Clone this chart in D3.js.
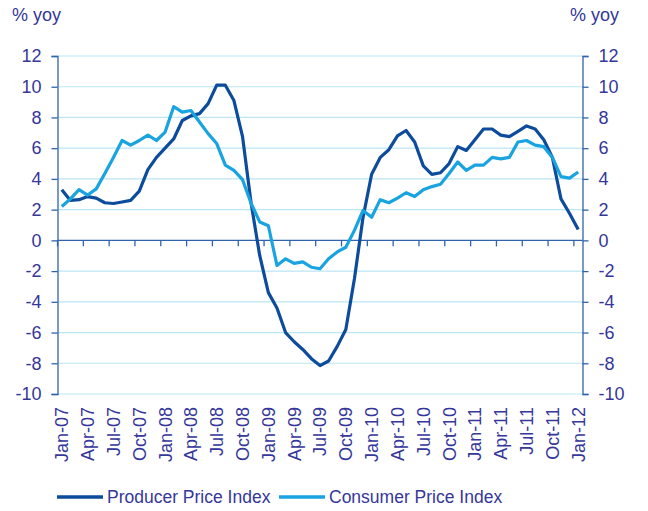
<!DOCTYPE html>
<html>
  <head>
    <script src="https://cdnjs.cloudflare.com/ajax/libs/d3/7.8.5/d3.min.js"></script>
    <style>
      body {
        margin: 0;
        background: #ffffff;
        font-family: "Liberation Sans", Arial, sans-serif;
      }
      text {
        fill: #35379a;
      }
    </style>
  </head>
  <body>
    <div id="chart"></div>
    <script>
      // 月次データ Jan-07 〜 Jan-12
      const months = ["Jan", "Feb", "Mar", "Apr", "May", "Jun", "Jul", "Aug", "Sep", "Oct", "Nov", "Dec"];
      const categories = [];
      for (let y = 7; y <= 12; y++) {
        months.forEach((m) => {
          if (y === 12 && m !== "Jan") return;
          categories.push(m + "-" + String(y).padStart(2, "0"));
        });
      }

      const ppi = [
        3.3, 2.6, 2.65, 2.85, 2.75, 2.45, 2.4, 2.5, 2.6, 3.2, 4.6, 5.4,
        6.0, 6.6, 7.8, 8.1, 8.25, 8.9, 10.1, 10.1, 9.1, 6.75, 2.4, -1.0,
        -3.4, -4.4, -6.0, -6.6, -7.1, -7.7, -8.15, -7.85, -6.9, -5.8, -2.5, 1.5,
        4.3, 5.4, 5.9, 6.8, 7.15, 6.4, 4.85, 4.3, 4.4, 5.0, 6.1, 5.85,
        6.55, 7.25, 7.25, 6.85, 6.75, 7.1, 7.45, 7.25, 6.55, 5.4, 2.7, 1.75,
        0.7,
      ];
      const cpi = [
        2.2, 2.7, 3.3, 2.95, 3.35, 4.35, 5.4, 6.5, 6.2, 6.5, 6.85, 6.5,
        7.05, 8.7, 8.35, 8.45, 7.7, 6.95, 6.3, 4.9, 4.55, 3.95, 2.4, 1.2,
        0.95, -1.63, -1.2, -1.5, -1.4, -1.75, -1.85, -1.2, -0.75, -0.45, 0.65, 1.95,
        1.5, 2.65, 2.45, 2.75, 3.1, 2.85, 3.3, 3.5, 3.65, 4.35, 5.1, 4.55,
        4.9, 4.9, 5.4, 5.3, 5.4, 6.4, 6.5, 6.2, 6.1, 5.4, 4.15, 4.05,
        4.45,
      ];
      const yTicks = [-10, -8, -6, -4, -2, 0, 2, 4, 6, 8, 10, 12];
      const seriesNames = ["Producer Price Index", "Consumer Price Index"];
      const seriesColors = ["#0d4c9c", "#19a3e0"];

      const width = 648;
      const height = 511;
      const left = 57.5;
      const right = 582.5;

      const svg = d3
        .select("#chart")
        .append("svg")
        .attr("width", width)
        .attr("height", height);

      const x = d3.scaleBand().domain(d3.range(categories.length)).range([left, right]);
      const y = d3.scaleLinear().domain([-10, 12]).range([394, 56]);

      // 横のグリッド線
      svg
        .append("g")
        .selectAll("line")
        .data(yTicks.filter((d) => d !== 0))
        .enter()
        .append("line")
        .attr("x1", left)
        .attr("x2", right)
        .attr("y1", (d) => y(d))
        .attr("y2", (d) => y(d))
        .attr("stroke", "#bde5f4")
        .attr("stroke-width", 1.2);

      // 左右の軸（マイナスはハイフンで表示）
      const axisColor = "#3063ad";
      const fmt = (d) => String(d);
      const leftAxis = svg
        .append("g")
        .attr("transform", `translate(${left},0)`)
        .call(d3.axisLeft(y).tickValues(yTicks).tickSize(6).tickFormat(fmt));
      const rightAxis = svg
        .append("g")
        .attr("transform", `translate(${right},0)`)
        .call(d3.axisRight(y).tickValues(yTicks).tickSize(6).tickFormat(fmt));
      [leftAxis, rightAxis].forEach((g) => {
        g.select(".domain").attr("stroke", axisColor).attr("stroke-width", 1.3);
        g.selectAll(".tick line").attr("stroke", axisColor).attr("stroke-width", 1.3);
        g.selectAll(".tick text")
          .attr("fill", "#35379a")
          .style("font-size", "18px")
          .style("font-family", "Liberation Sans, Arial, sans-serif");
      });
      leftAxis.selectAll(".tick text").attr("x", -16);
      rightAxis.selectAll(".tick text").attr("x", 16);

      // ゼロ線と目盛り
      svg
        .append("line")
        .attr("x1", left)
        .attr("x2", right)
        .attr("y1", y(0))
        .attr("y2", y(0))
        .attr("stroke", axisColor)
        .attr("stroke-width", 1.3);

      const step = x.step();
      svg
        .append("g")
        .selectAll("line")
        .data(d3.range(0, categories.length, 3))
        .enter()
        .append("line")
        .attr("x1", (d) => left + d * step)
        .attr("x2", (d) => left + d * step)
        .attr("y1", y(0))
        .attr("y2", y(0) + 6)
        .attr("stroke", axisColor)
        .attr("stroke-width", 1.3);

      // X軸ラベル（縦書き）
      svg
        .append("g")
        .selectAll("text")
        .data(d3.range(0, categories.length, 3))
        .enter()
        .append("text")
        .attr("transform", (d) => `translate(${x(d) + x.bandwidth() / 2},407) rotate(-90)`)
        .attr("text-anchor", "end")
        .attr("dy", "0.36em")
        .style("font-size", "18px")
        .text((d) => categories[d]);

      // 単位ラベル
      svg.append("text").attr("x", 12).attr("y", 21).style("font-size", "18px").text("% yoy");
      svg.append("text").attr("x", 570).attr("y", 21).style("font-size", "18px").text("% yoy");

      // 折れ線
      const line = d3
        .line()
        .x((d, i) => x(i) + x.bandwidth() / 2)
        .y((d) => y(d));

      [ppi, cpi].forEach((values, k) => {
        svg
          .append("path")
          .datum(values)
          .attr("fill", "none")
          .attr("stroke", seriesColors[k])
          .attr("stroke-width", 3.2)
          .attr("stroke-linejoin", "round")
          .attr("d", line);
      });

      // 凡例
      const legendX = [57, 279];
      seriesNames.forEach((name, k) => {
        const g = svg.append("g").attr("transform", `translate(${legendX[k]},497)`);
        g.append("line")
          .attr("x1", 0)
          .attr("x2", 46)
          .attr("stroke", seriesColors[k])
          .attr("stroke-width", 3.5);
        g.append("text")
          .attr("x", 50)
          .attr("dy", "0.36em")
          .style("font-size", "17.5px")
          .text(name);
      });
    </script>
  </body>
</html>
